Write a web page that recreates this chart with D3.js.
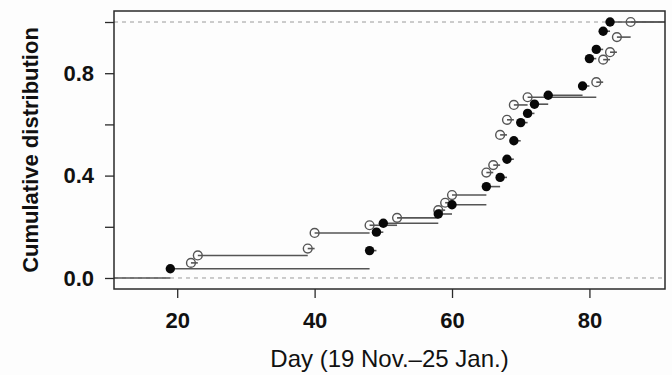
<!DOCTYPE html>
<html>
<head>
<meta charset="utf-8">
<script src="https://cdn.jsdelivr.net/npm/d3@7"></script>
<style>
  body { margin: 0; background: #fdfdfd; }
  text { font-family: "Liberation Sans", Arial, sans-serif; fill: #111; }
</style>
</head>
<body>
<div id="chart"></div>
<script>
// open circles series
const openDays = [22, 23, 39, 40, 48, 52, 58, 59, 60, 65, 66, 67, 68, 69, 71, 81, 82, 83, 84, 86];
const openCum = [0.059, 0.088, 0.115, 0.176, 0.206, 0.235, 0.265, 0.294, 0.324, 0.412, 0.441, 0.559, 0.618, 0.676, 0.706, 0.765, 0.853, 0.882, 0.941, 1.0];

// filled circles series
const filledDays = [19, 48, 49, 50, 58, 60, 65, 67, 68, 69, 70, 71, 72, 74, 79, 80, 81, 82, 83];
const filledCum = [0.036, 0.107, 0.179, 0.214, 0.25, 0.286, 0.357, 0.393, 0.464, 0.536, 0.607, 0.643, 0.679, 0.714, 0.75, 0.857, 0.893, 0.964, 1.0];

const xTicks = [20, 40, 60, 80];
const yTicks = [0, 0.2, 0.4, 0.6, 0.8, 1.0];
const yLabels = ['0.0', '', '0.4', '', '0.8', ''];

const w = 672;
const h = 375;
const box = { left: 114, right: 665, top: 11, bottom: 289 };

const xScale = d3.scaleLinear()
  .domain([10.8, 91])
  .range([box.left, box.right]);

const yScale = d3.scaleLinear()
  .domain([-0.043, 1.043])
  .range([box.bottom, box.top]);

const svg = d3.select('#chart')
  .append('svg')
  .attr('width', w)
  .attr('height', h);

// reference lines at 0 and 1
svg.selectAll('.ref')
  .data([0, 1])
  .enter()
  .append('line')
  .attr('x1', box.left)
  .attr('x2', box.right)
  .attr('y1', d => yScale(d))
  .attr('y2', d => yScale(d))
  .attr('stroke', '#9a9a9a')
  .attr('stroke-width', 1)
  .attr('stroke-dasharray', '4,4');

// step segments for a series
const steps = (days, cum, lead) => {
  const segs = days.map((d, i) => ({
    x1: d,
    x2: i < days.length - 1 ? days[i + 1] : xScale.domain()[1],
    y: cum[i]
  }));
  if (lead) segs.unshift({ x1: xScale.domain()[0], x2: days[0], y: 0 });
  return segs;
};

const drawSteps = (segs, cls) => {
  svg.selectAll('.' + cls)
    .data(segs)
    .enter()
    .append('line')
    .attr('class', cls)
    .attr('x1', d => xScale(d.x1))
    .attr('x2', d => xScale(d.x2))
    .attr('y1', d => yScale(d.y))
    .attr('y2', d => yScale(d.y))
    .attr('stroke', '#555')
    .attr('stroke-width', 1.6);
};

drawSteps(steps(openDays, openCum, false), 'open-step');
drawSteps(steps(filledDays, filledCum, true), 'filled-step');

svg.selectAll('.open-pt')
  .data(openDays)
  .enter()
  .append('circle')
  .attr('class', 'open-pt')
  .attr('cx', d => xScale(d))
  .attr('cy', (d, i) => yScale(openCum[i]))
  .attr('r', 4.4)
  .attr('fill', 'none')
  .attr('stroke', '#555')
  .attr('stroke-width', 1.4);

svg.selectAll('.filled-pt')
  .data(filledDays)
  .enter()
  .append('circle')
  .attr('class', 'filled-pt')
  .attr('cx', d => xScale(d))
  .attr('cy', (d, i) => yScale(filledCum[i]))
  .attr('r', 4.7)
  .attr('fill', '#080808');

// box
svg.append('rect')
  .attr('x', box.left)
  .attr('y', box.top)
  .attr('width', box.right - box.left)
  .attr('height', box.bottom - box.top)
  .attr('fill', 'none')
  .attr('stroke', '#2a2a2a')
  .attr('stroke-width', 1.5);

const xAxis = d3.axisBottom(xScale)
  .tickValues(xTicks)
  .tickSize(9)
  .tickPadding(14);

const yAxis = d3.axisLeft(yScale)
  .tickValues(yTicks)
  .tickFormat((d, i) => yLabels[i])
  .tickSize(9)
  .tickPadding(11);

const gx = svg.append('g')
  .attr('transform', `translate(0,${box.bottom})`)
  .call(xAxis);

const gy = svg.append('g')
  .attr('transform', `translate(${box.left},0)`)
  .call(yAxis);

[gx, gy].forEach(g => {
  g.select('.domain').remove();
  g.selectAll('line').attr('stroke', '#2a2a2a').attr('stroke-width', 1.3);
  g.selectAll('text')
    .attr('font-size', 22)
    .attr('font-weight', 'bold')
    .attr('font-family', '"Liberation Sans", Arial, sans-serif')
    .attr('fill', '#111');
});

svg.append('text')
  .attr('x', (box.left + box.right) / 2)
  .attr('y', 367)
  .attr('text-anchor', 'middle')
  .attr('font-size', 24)
  .text('Day (19 Nov.–25 Jan.)');

svg.append('text')
  .attr('transform', `translate(38,${(box.top + box.bottom) / 2}) rotate(-90)`)
  .attr('text-anchor', 'middle')
  .attr('font-size', 22)
  .attr('font-weight', 'bold')
  .text('Cumulative distribution');
</script>
</body>
</html>
